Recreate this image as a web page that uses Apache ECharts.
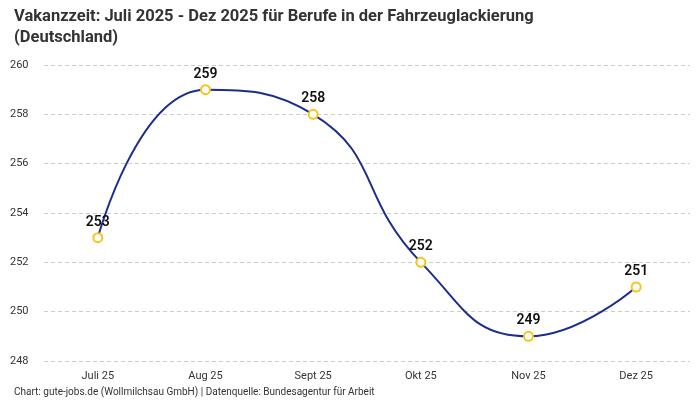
<!DOCTYPE html>
<html>
<head>
<meta charset="utf-8">
<script src="https://cdn.jsdelivr.net/npm/echarts@6/dist/echarts.min.js"></script>
<style>
  html, body { margin: 0; padding: 0; background: #fff; }
  #chart { width: 700px; height: 400px; }
</style>
</head>
<body>
<div id="chart"></div>
<script>
var months = ['Juli 25', 'Aug 25', 'Sept 25', 'Okt 25', 'Nov 25', 'Dez 25'];
var vakanzzeit = [253, 259, 258, 252, 249, 251];
var yTicks = [248, 250, 252, 254, 256, 258, 260];

var FONT = 'Roboto, "Noto Sans", sans-serif';

var myChart = echarts.init(document.getElementById('chart'));
var option = {
  textStyle: { fontFamily: FONT },
  title: [{
    text: 'Vakanzzeit: Juli 2025 - Dez 2025 für Berufe in der Fahrzeuglackierung\n(Deutschland)',
    left: 9, top: 1,
    textStyle: { fontSize: 16.5, fontWeight: 'bold', color: '#333', lineHeight: 21, fontFamily: FONT }
  }, {
    text: 'Chart: gute-jobs.de (Wollmilchsau GmbH) | Datenquelle: Bundesagentur für Arbeit',
    left: 9, top: 382,
    textStyle: { fontSize: 10, fontWeight: 'normal', color: '#333', fontFamily: FONT }
  }],
  grid: { left: 44, right: 10, top: 65, bottom: 39 },
  xAxis: {
    type: 'category',
    data: months,
    boundaryGap: true,
    axisLine: { show: false },
    axisTick: { show: false },
    axisLabel: { color: '#333', fontSize: 11, margin: 10 }
  },
  yAxis: {
    type: 'value',
    min: yTicks[0],
    max: yTicks[yTicks.length - 1],
    interval: 2,
    axisLine: { show: false },
    axisTick: { show: false },
    axisLabel: { color: '#333', fontSize: 11, align: 'left', margin: 34 },
    splitLine: { lineStyle: { color: '#ccc', type: [4, 3] } }
  },
  series: [{
    type: 'line',
    data: vakanzzeit,
    smooth: 0.5,
    symbol: 'circle',
    symbolSize: 9,
    lineStyle: { color: '#1c2e8c', width: 2 },
    itemStyle: { color: '#fff', borderColor: '#f5c518', borderWidth: 2 },
    label: {
      show: true, position: 'top', distance: 3,
      color: '#111', fontSize: 14, fontWeight: 600
    }
  }]
};
myChart.setOption(option);
</script>
</body>
</html>
